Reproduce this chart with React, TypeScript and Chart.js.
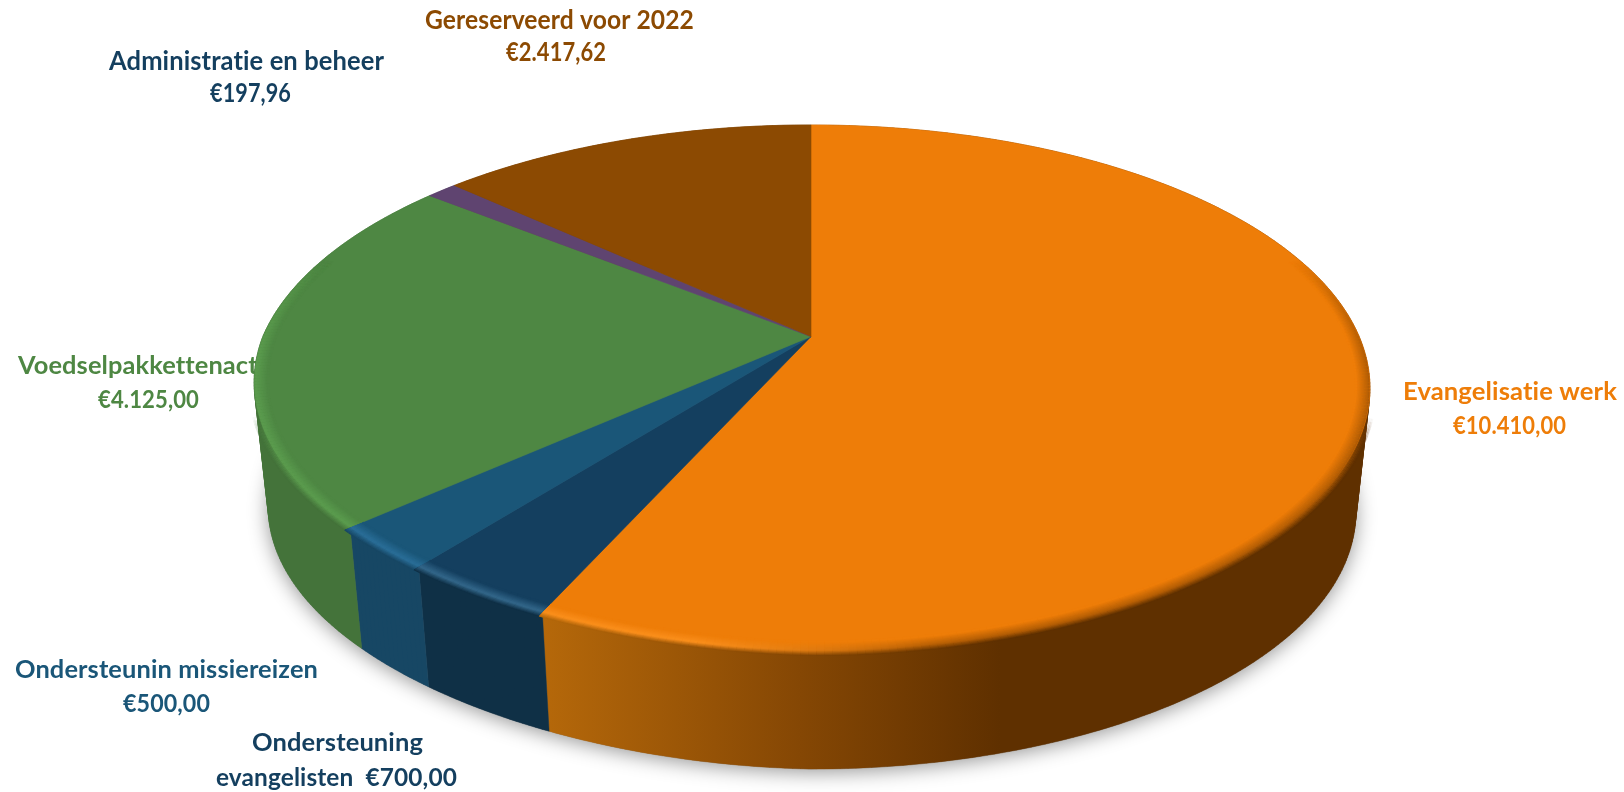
import React, { useEffect, useRef } from "react";
import { Chart, registerables } from "chart.js";

Chart.register(...registerables);

// ---- data ----
const categories = [
  "Evangelisatie werk",
  "Ondersteuning evangelisten",
  "Ondersteunin missiereizen",
  "Voedselpakkettenactie",
  "Administratie en beheer",
  "Gereserveerd voor 2022",
];
const amounts = [10410.0, 700.0, 500.0, 4125.0, 197.96, 2417.62];

// ---- colours ----
const topColors = ["#EE7D08", "#143F5F", "#1A5678", "#4E8743", "#5F4470", "#8C4A02"];
const rimColors = ["#FB8F1C", "#33678A", "#2A6E98", "#5B9C4E", "#5F4470", "#8C4A02"];
const wallColors = ["#5F3000", "#0F3046", "#174764", "#44733A", "#4A3458", "#6B3802"];

// ---- text placed on the canvas ----
type Line = { text: string; x: number; w: number; y: number; color: string; size: number };
const labelLines: Line[] = [
  { text: "Gereserveerd voor 2022", x: 425, w: 269, y: 29, color: "#8C4A02", size: 27 },
  { text: "€2.417,62", x: 506, w: 100, y: 61, color: "#8C4A02", size: 27 },
  { text: "Administratie en beheer", x: 109, w: 275, y: 70, color: "#143F5F", size: 27 },
  { text: "€197,96", x: 210, w: 81, y: 102, color: "#143F5F", size: 27 },
  { text: "Voedselpakkettenactie", x: 18, w: 260, y: 374, color: "#4E8743", size: 24 },
  { text: "€4.125,00", x: 98, w: 101, y: 408, color: "#4E8743", size: 24 },
  { text: "Evangelisatie werk", x: 1403, w: 214, y: 400, color: "#EE7D08", size: 24 },
  { text: "€10.410,00", x: 1453, w: 113, y: 434, color: "#EE7D08", size: 24 },
  { text: "Ondersteunin missiereizen", x: 15, w: 303, y: 678, color: "#1A5678", size: 24 },
  { text: "€500,00", x: 123, w: 87, y: 712, color: "#1A5678", size: 24 },
  { text: "Ondersteuning", x: 252, w: 171, y: 751, color: "#143F5F", size: 24 },
  { text: "evangelisten  €700,00", x: 216, w: 241, y: 786, color: "#143F5F", size: 24 },
];

// ---- perspective of the disc ----
const CX = 811;
const CY = 336.6;
const A = 253;
const B = 548.2;
const K = 0.1954;
const VP_Y = 5300;
const DEPTH_S = 0.9746;

type P = { x: number; y: number };
const project = (theta: number, r = 1): P => {
  const u = r * Math.sin(theta);
  const v = r * Math.cos(theta);
  const w = 1 + K * v;
  let x = (B * u) / w;
  let y = -(A * v) / w;
  if (u < 0 && v < 0) {
    // front-left edge of the reference runs slightly inside a true ellipse
    x *= 1 + 0.02 * v;
    y -= 15 * -u * v * v;
  }
  return { x: CX + x, y: CY + y };
};
const lower = (p: P): P => ({
  x: CX + DEPTH_S * (p.x - CX),
  y: VP_Y + DEPTH_S * (p.y - VP_Y),
});

const hex = (c: string) => [1, 3, 5].map((i) => parseInt(c.slice(i, i + 2), 16));
const mix = (a: number[], b: number[], t: number) => a.map((v, i) => v + (b[i] - v) * t);
const css = (c: number[]) => `rgb(${c.map((v) => Math.round(v)).join(",")})`;
const clamp = (v: number) => Math.max(0, Math.min(1, v));

const orangeStops: [number, string][] = [
  [544, "#B5680A"],
  [800, "#854704"],
  [1000, "#5F3000"],
];
const orangeWallAt = (x: number) => {
  if (x <= orangeStops[0][0]) return hex(orangeStops[0][1]);
  for (let i = 1; i < orangeStops.length; i++) {
    if (x <= orangeStops[i][0]) {
      const t = (x - orangeStops[i - 1][0]) / (orangeStops[i][0] - orangeStops[i - 1][0]);
      return mix(hex(orangeStops[i - 1][1]), hex(orangeStops[i][1]), t);
    }
  }
  return hex("#5F3000");
};

const samples = (a: number, b: number) => {
  const n = Math.max(2, Math.ceil((b - a) / 0.012));
  const out: number[] = [];
  for (let i = 0; i <= n; i++) out.push(a + ((b - a) * i) / n);
  return out;
};

const pie3d = {
  id: "pie3d",
  beforeDatasetDraw(chart: any) {
    const ctx: CanvasRenderingContext2D = chart.ctx;
    const arcs = chart.getDatasetMeta(0).data as any[];
    const ranges = arcs.map((a) => [a.startAngle + Math.PI / 2, a.endAngle + Math.PI / 2]);

    // labels lie behind the disc
    ctx.save();
    ctx.textBaseline = "alphabetic";
    ctx.textAlign = "left";
    (ctx as any).letterSpacing = "0.1px";
    labelLines.forEach((l) => {
      ctx.font = `700 ${l.size}px Lato, "Open Sans", sans-serif`;
      ctx.fillStyle = l.color;
      const m = ctx.measureText(l.text).width;
      ctx.save();
      ctx.translate(l.x, l.y);
      ctx.scale(l.w / m, 1);
      ctx.fillText(l.text, 0, 0);
      ctx.restore();
    });
    ctx.restore();

    // soft shadow below the disc
    ctx.save();
    ctx.shadowColor = "rgba(0,0,0,0.42)";
    ctx.shadowBlur = 20;
    ctx.shadowOffsetY = 3;
    ctx.fillStyle = "#777";
    ctx.beginPath();
    samples(0, Math.PI * 2).forEach((t, i) => {
      const p = lower(project(t));
      if (i) ctx.lineTo(p.x, p.y);
      else ctx.moveTo(p.x, p.y);
    });
    ctx.closePath();
    ctx.fill();
    ctx.restore();

    // walls: each strip is wound the same way so the fold at the sides stays filled
    ranges.forEach(([a, b], i) => {
      const ts = samples(a, b);
      const top = ts.map((t) => project(t));
      const bot = top.map(lower);
      let fill: any = wallColors[i];
      if (i === 0) {
        const g = ctx.createLinearGradient(orangeStops[0][0], 0, orangeStops[2][0], 0);
        const span = orangeStops[2][0] - orangeStops[0][0];
        orangeStops.forEach(([x, c]) => g.addColorStop((x - orangeStops[0][0]) / span, c));
        fill = g;
      }
      ctx.beginPath();
      for (let j = 0; j < ts.length - 1; j++) {
        const q = [top[j], top[j + 1], bot[j + 1], bot[j]];
        let area = 0;
        q.forEach((p, n) => {
          const o = q[(n + 1) % 4];
          area += p.x * o.y - o.x * p.y;
        });
        if (area < 0) q.reverse();
        q.forEach((p, n) => (n ? ctx.lineTo(p.x, p.y) : ctx.moveTo(p.x, p.y)));
        ctx.closePath();
      }
      ctx.fillStyle = fill;
      ctx.strokeStyle = fill;
      ctx.lineWidth = 0.4;
      ctx.fill();
      ctx.stroke();
    });

    // top surface
    ranges.forEach(([a, b], i) => {
      ctx.beginPath();
      ctx.moveTo(CX, CY);
      samples(a, b).forEach((t) => {
        const p = project(t);
        ctx.lineTo(p.x, p.y);
      });
      ctx.closePath();
      ctx.fillStyle = topColors[i];
      ctx.strokeStyle = topColors[i];
      ctx.lineWidth = 0.6;
      ctx.fill();
      ctx.stroke();
    });

    // bevelled rim: soft band on both sides of the top edge
    const layers = 14;
    const rOuter = 1.01;
    const rInner = 0.976;
    ctx.lineCap = "butt";
    ranges.forEach(([a, b], i) => {
      const topC = hex(topColors[i]);
      const rimC = hex(rimColors[i]);
      ctx.save();
      ctx.beginPath();
      ctx.moveTo(CX, CY);
      samples(a, b).forEach((t) => {
        const p = project(t, rOuter + 0.005);
        ctx.lineTo(p.x, p.y);
      });
      ctx.closePath();
      ctx.clip();
      const ts = samples(a, b);
      for (let l = 0; l <= layers; l++) {
        const f = l / layers;
        const r = rOuter + (rInner - rOuter) * f;
        ctx.lineWidth = 2.2;
        for (let j = 0; j < ts.length - 1; j++) {
          const th = (ts[j] + ts[j + 1]) / 2;
          const v = Math.cos(th);
          const inner = clamp((0.32 - v) / 0.4);
          const alpha = r > 1 ? clamp((-0.3 - v) / 0.25) : inner;
          if (alpha <= 0) continue;
          const p0 = project(ts[j], r);
          const p1 = project(ts[j + 1], r);
          const edge = i === 0 ? orangeWallAt(p0.x) : hex(wallColors[i]);
          const hi = i === 0 ? clamp((930 - p0.x) / 230) : 1;
          const cMid = mix(mix(edge, topC, 0.6), rimC, hi);
          const c = f < 0.38 ? mix(edge, cMid, f / 0.38) : mix(cMid, topC, (f - 0.38) / 0.62);
          ctx.globalAlpha = alpha;
          ctx.strokeStyle = css(c);
          ctx.beginPath();
          ctx.moveTo(p0.x, p0.y);
          ctx.lineTo(p1.x, p1.y);
          ctx.stroke();
        }
      }
      ctx.restore();
    });

    return false;
  },
};

export default function App() {
  const ref = useRef<HTMLCanvasElement | null>(null);
  useEffect(() => {
    if (!ref.current) return;
    const chart = new Chart(ref.current, {
      type: "pie",
      data: {
        labels: categories,
        datasets: [{ data: amounts, backgroundColor: topColors, borderWidth: 0 }],
      },
      options: {
        animation: false,
        responsive: false,
        devicePixelRatio: 1,
        plugins: { legend: { display: false }, tooltip: { enabled: false } },
      },
      plugins: [pie3d],
    } as any);
    return () => chart.destroy();
  }, []);
  return (
    <div style={{ position: "absolute", left: 0, top: 0, width: 1624, height: 792, background: "#fff" }}>
      <canvas ref={ref} width={1624} height={792} style={{ display: "block", width: 1624, height: 792 }} />
    </div>
  );
}
